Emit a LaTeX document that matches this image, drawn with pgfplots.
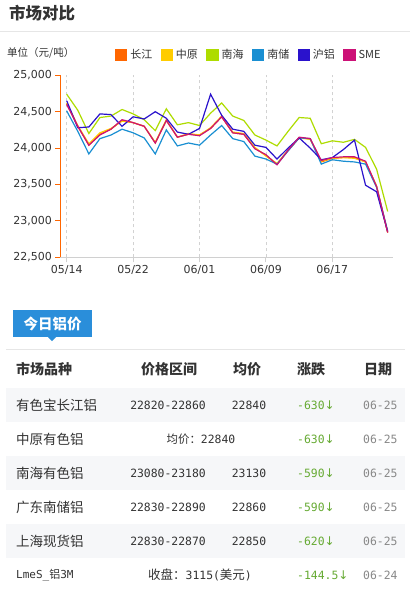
\documentclass[border=0pt]{standalone}
\usepackage{pgfplots}
\usepackage{pgfplotstable}
\pgfplotsset{compat=1.18}
\usepackage{fontspec}
\setmainfont{Noto Sans CJK SC}
\newfontfamily\cjk{Noto Sans CJK SC}
\newfontfamily\dejavu{DejaVu Sans}
\newfontfamily\mono{DejaVu Sans Mono}
\definecolor{cCJ}{HTML}{FF6600}
\definecolor{cZY}{HTML}{FFCC00}
\definecolor{cNH}{HTML}{AEDC00}
\definecolor{cNC}{HTML}{1A8FD2}
\definecolor{cHL}{HTML}{2A12CC}
\definecolor{cSME}{HTML}{CC1177}
\definecolor{txt}{HTML}{333333}
\definecolor{gridc}{HTML}{D2D2D2}
\definecolor{axisc}{HTML}{D0D0D0}
\definecolor{sepc}{HTML}{E6E6E6}
\definecolor{bandc}{HTML}{F6F7F9}
\definecolor{boxc}{HTML}{2A8EDA}
\definecolor{upc}{HTML}{66AA33}
\definecolor{datec}{HTML}{888888}

\pgfplotstableread{
i  cj    zy    nh    nc    hl    sme
0  24610 24620 24740 24510 24650 24600
1  24300 24310 24520 24230 24280 24300
2  24040 24060 24200 23920 24290 24040
3  24190 24210 24420 24130 24470 24180
4  24260 24270 24440 24180 24460 24260
5  24380 24370 24530 24260 24300 24390
6  24350 24350 24470 24210 24430 24350
7  24300 24300 24390 24140 24400 24300
8  24070 24080 24240 23920 24500 24070
9  24380 24390 24540 24250 24410 24380
10 24150 24150 24320 24030 24220 24150
11 24190 24200 24350 24070 24190 24190
12 24180 24180 24310 24040 24270 24170
13 24270 24280 24480 24180 24740 24270
14 24430 24440 24620 24310 24450 24430
15 24210 24220 24440 24130 24260 24210
16 24190 24200 24380 24090 24230 24190
17 24000 24010 24180 23890 24040 23990
18 23900 23890 24110 23850 24010 23910
19 23780 23790 24030 23780 23850 23770
20 23970 23970 24230 23960 24000 23970
21 24140 24140 24420 24140 24140 24150
22 24130 24120 24410 24130 24000 24130
23 23810 23820 24060 23780 23840 23830
24 23860 23860 24100 23840 23870 23870
25 23870 23870 24080 23820 23980 23880
26 23870 23860 24120 23810 24110 23880
27 23810 23810 24010 23780 23490 23820
28 23470 23480 23710 23460 23400 23470
29 22840 22840 23130 22860 22850 22840
}\prices

\begin{document}
\begin{tikzpicture}
\useasboundingbox (0,0) rectangle (410bp,-592bp);
\fill[white] (0,0) rectangle (410bp,-592bp);
% title
\node[anchor=west, inner sep=0pt, text=txt, font=\cjk\bfseries\fontsize{16.5bp}{18bp}\selectfont] at (9bp,-13bp) {市场对比};
\draw[sepc, line width=1bp] (0,-31bp) -- (410bp,-31bp);
\node[anchor=west, inner sep=0pt, text=txt, font=\cjk\fontsize{10.5bp}{12bp}\selectfont] at (7bp,-53bp) {单位（元/吨）};

\begin{axis}[
  at={(60.3bp,-257.3bp)}, anchor=south west,
  scale only axis, width=332.7bp, height=182bp,
  xmin=-0.58, xmax=29.48, ymin=22500, ymax=25000,
  axis x line*=bottom, axis y line*=left,
  x axis line style={draw=axisc, line width=1bp},
  y axis line style={draw=cCJ, line width=1.1bp},
  ytick={22500,23000,23500,24000,24500,25000},
  xtick={0,6,12,18,24},
  xticklabels={05/14,05/22,06/01,06/09,06/17},
  scaled y ticks=false,
  /pgf/number format/assume math mode=true,
  yticklabel style={/pgf/number format/.cd, fixed, 1000 sep={,}},
  tick label style={font=\dejavu\fontsize{11bp}{13bp}\selectfont, text=txt},
  tick align=outside,
  major tick length=5bp,
  ytick style={draw=cCJ, line width=1bp},
  xtick style={draw=axisc, line width=1bp},
  xmajorgrids,
  grid style={gridc, dash pattern=on 3bp off 3bp, line width=0.7bp},
  legend columns=6,
  legend style={at={(axis description cs:0.164,1.113)}, anchor=west, draw=none, fill=none, inner sep=0pt,
    font=\cjk\fontsize{11bp}{13bp}\selectfont, text=txt,
    /tikz/every odd column/.append style={column sep=1bp},
    /tikz/every even column/.append style={column sep=6.5bp}},
  legend image code/.code={\fill[#1] (0bp,-5.5bp) rectangle (11bp,5.5bp);},
  every axis plot/.append style={line width=1.2bp, mark=none},
]
\addplot[color=cCJ] table[x=i,y=cj] {\prices};
\addlegendentry{长江}
\addplot[color=cZY] table[x=i,y=zy] {\prices};
\addlegendentry{中原}
\addplot[color=cNH] table[x=i,y=nh] {\prices};
\addlegendentry{南海}
\addplot[color=cNC] table[x=i,y=nc] {\prices};
\addlegendentry{南储}
\addplot[color=cHL] table[x=i,y=hl] {\prices};
\addlegendentry{沪铝}
\addplot[color=cSME] table[x=i,y=sme] {\prices};
\addlegendentry{SME}
\end{axis}

% today's price box
\fill[boxc] (13bp,-310bp) rectangle (92bp,-337bp);
\fill[boxc] (48bp,-337bp) -- (56bp,-337bp) -- (52bp,-341bp) -- cycle;
\node[text=white, inner sep=0pt, font=\cjk\bfseries\fontsize{14.5bp}{16bp}\selectfont] at (52.5bp,-323.5bp) {今日铝价};
\draw[sepc, line width=1bp] (6bp,-349bp) -- (405bp,-349bp);

% bands
\fill[bandc] (6bp,-388bp) rectangle (405bp,-422bp);
\fill[bandc] (6bp,-456bp) rectangle (405bp,-490bp);
\fill[bandc] (6bp,-524bp) rectangle (405bp,-558bp);

% header
\begin{scope}[every node/.style={inner sep=0pt, text=txt, font=\cjk\bfseries\fontsize{14bp}{16bp}\selectfont}]
\node[anchor=west] at (16bp,-369bp) {市场品种};
\node at (169bp,-369bp) {价格区间};
\node at (247bp,-369bp) {均价};
\node[anchor=west] at (297bp,-369bp) {涨跌};
\node at (378bp,-369bp) {日期};
\end{scope}

\newcommand{\nm}[2]{\node[anchor=west, inner sep=0pt, text=txt, font=\cjk\fontsize{13.5bp}{15bp}\selectfont] at (16bp,-#1bp) {#2};}
\newcommand{\rng}[2]{\node[inner sep=0pt, text=txt, font=\mono\fontsize{11.4bp}{13bp}\selectfont] at (168bp,-#1bp) {#2};}
\newcommand{\avg}[2]{\node[inner sep=0pt, text=txt, font=\mono\fontsize{11.4bp}{13bp}\selectfont] at (249bp,-#1bp) {#2};}
\newcommand{\chg}[2]{\node[anchor=west, inner sep=0pt, text=upc, font=\mono\fontsize{11.4bp}{13bp}\selectfont] at (297bp,-#1bp) {#2{\dejavu\fontsize{12bp}{13bp}\selectfont↓}};}
\newcommand{\dt}[2]{\node[anchor=west, inner sep=0pt, text=datec, font=\mono\fontsize{11.4bp}{13bp}\selectfont] at (363bp,-#1bp) {#2};}

\nm{405}{有色宝长江铝}\rng{405}{22820-22860}\avg{405}{22840}\chg{405}{-630}\dt{405}{06-25}
\nm{439}{中原有色铝}
\node[inner sep=0pt, text=txt, font=\cjk\fontsize{11.4bp}{13bp}\selectfont] at (201bp,-439bp) {均价：{\mono 22840}};
\chg{439}{-630}\dt{439}{06-25}
\nm{473}{南海有色铝}\rng{473}{23080-23180}\avg{473}{23130}\chg{473}{-590}\dt{473}{06-25}
\nm{507}{广东南储铝}\rng{507}{22830-22890}\avg{507}{22860}\chg{507}{-590}\dt{507}{06-25}
\nm{541}{上海现货铝}\rng{541}{22830-22870}\avg{541}{22850}\chg{541}{-620}\dt{541}{06-25}
\node[anchor=west, inner sep=0pt, text=txt, font=\mono\fontsize{11bp}{13bp}\selectfont] at (16bp,-575bp) {LmeS\_{\cjk 铝}3M};
\node[inner sep=0pt, text=txt, font=\cjk\fontsize{12.5bp}{14bp}\selectfont] at (200bp,-575bp) {收盘：{\mono\fontsize{11.4bp}{13bp}\selectfont 3115(}美元{\mono\fontsize{11.4bp}{13bp}\selectfont )}};
\chg{575}{-144.5}\dt{575}{06-24}
\end{tikzpicture}
\end{document}
